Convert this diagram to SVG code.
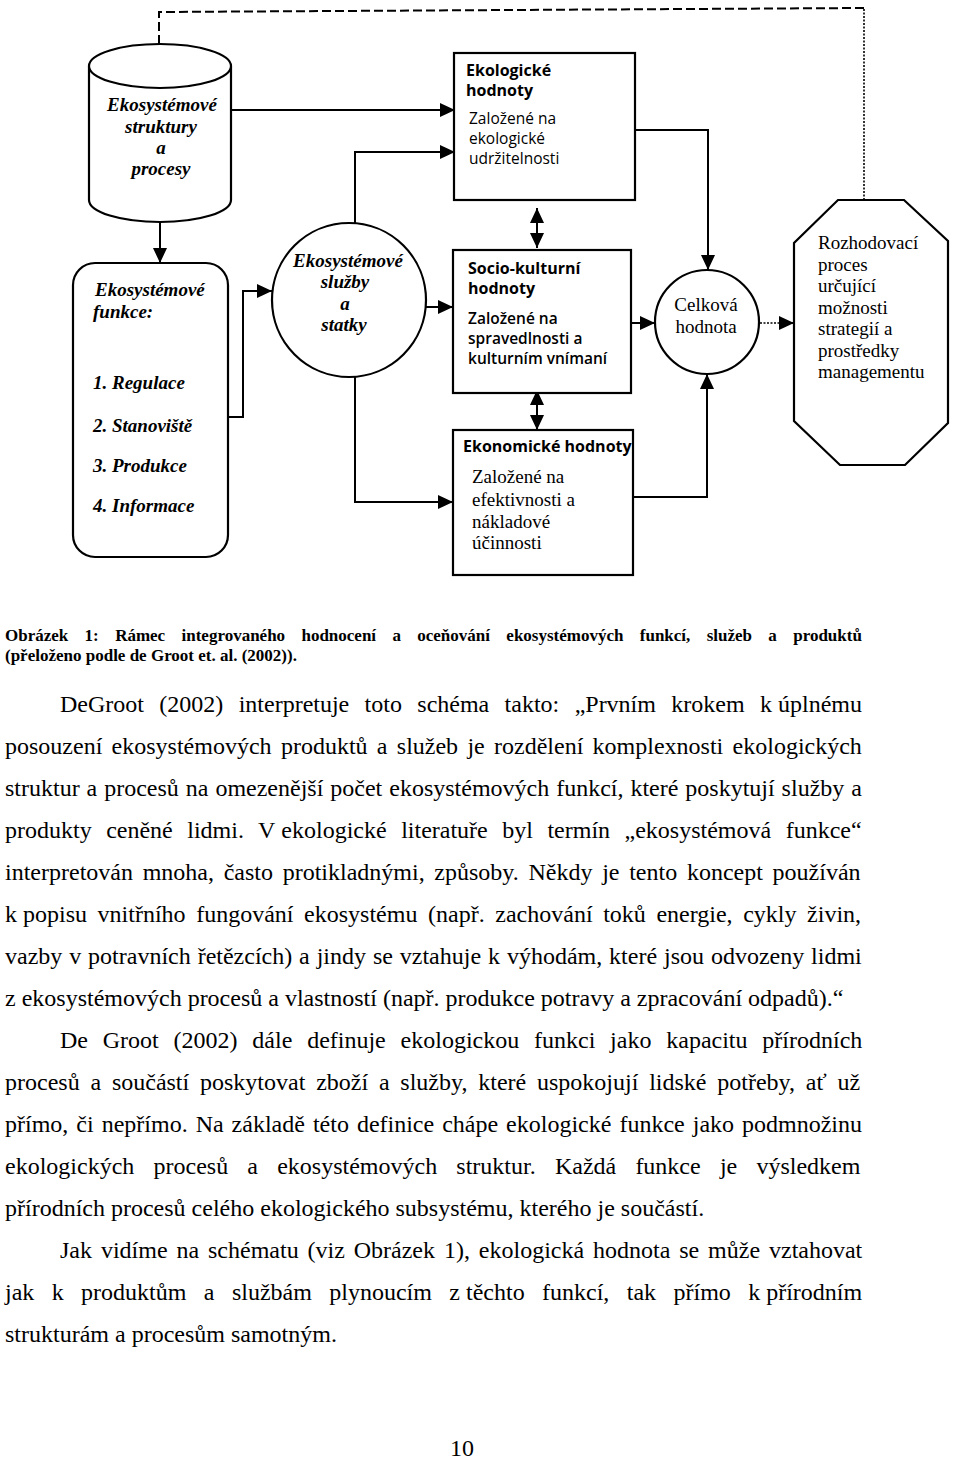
<svg xmlns="http://www.w3.org/2000/svg" width="960" height="1461" viewBox="0 0 960 1461">
<style>
.bg{fill:#fff}
.sh{fill:#fff;stroke:#000;stroke-width:2.2}
.ln{fill:none;stroke:#000;stroke-width:2}
.dash{fill:none;stroke:#000;stroke-width:2;stroke-dasharray:9 4}
.dot{fill:none;stroke:#000;stroke-width:1.6;stroke-dasharray:2 1.5}
.bi{font-family:"Liberation Serif",serif;font-weight:bold;font-style:italic;font-size:19px;fill:#000}
.sr{font-family:"Liberation Serif",serif;font-size:19px;fill:#000}
.sb{font-family:"Open Sans","Noto Sans",sans-serif;font-weight:700;font-size:16px;fill:#000}
.sm{font-family:"Open Sans","Noto Sans",sans-serif;font-weight:600;font-size:15.5px;fill:#000}
.sn{font-family:"Open Sans","Noto Sans",sans-serif;font-weight:400;font-size:15.5px;fill:#000}
.cap{font-family:"Liberation Serif",serif;font-weight:bold;font-size:17px;fill:#000}
.tx{font-family:"Liberation Serif",serif;font-size:24px;fill:#000}
</style>
<defs>
<marker id="ah" viewBox="0 0 15 14" refX="15" refY="7" markerWidth="15" markerHeight="14" markerUnits="userSpaceOnUse" orient="auto-start-reverse"><path d="M0,0 L15,7 L0,14 z" fill="#000"/></marker>
</defs>
<rect class="bg" x="0" y="0" width="960" height="1461"/>

<g id="connectors">
<path class="dot" d="M864,200 L864,8"/>
<path class="dash" d="M864,8 L159,12 L159,52"/>
<path class="ln" d="M159,50 L159,67" marker-end="url(#ah)"/>
<path class="ln" d="M231,110 L455,110" marker-end="url(#ah)"/>
<path class="ln" d="M355,223 L355,152 L455,152" marker-end="url(#ah)"/>
<path class="ln" d="M160,222 L160,263" marker-end="url(#ah)"/>
<path class="ln" d="M228,417 L243,417 L243,291 L272,291" marker-end="url(#ah)"/>
<path class="ln" d="M426,307 L453,307" marker-end="url(#ah)"/>
<path class="ln" d="M355,377 L355,502 L453,502" marker-end="url(#ah)"/>
<path class="ln" d="M537,208 L537,248" marker-start="url(#ah)" marker-end="url(#ah)"/>
<path class="ln" d="M537,390 L537,430" marker-start="url(#ah)" marker-end="url(#ah)"/>
<path class="ln" d="M635,130 L708,130 L708,270" marker-end="url(#ah)"/>
<path class="ln" d="M620,323 L655,323" marker-end="url(#ah)"/>
<path class="ln" d="M633,497 L707,497 L707,374" marker-end="url(#ah)"/>
<path class="dot" d="M760,323 L780,323"/>
<path class="ln" d="M779,323 L794,323" marker-end="url(#ah)"/>
</g>

<g id="node-struktury">
<path class="sh" d="M89,66 L89,200 A71,22 0 0 0 231,200 L231,66"/>
<ellipse class="sh" cx="160" cy="66" rx="71" ry="22"/>
<text class="bi" text-anchor="middle"><tspan x="162" y="111">Ekosystémové</tspan><tspan x="161" y="133">struktury</tspan><tspan x="161" y="154">a</tspan><tspan x="161" y="175">procesy</tspan></text>
</g>

<g id="node-funkce">
<rect class="sh" x="73" y="263" width="155" height="294" rx="22"/>
<text class="bi"><tspan x="95" y="296">Ekosystémové</tspan><tspan x="93" y="318">funkce:</tspan><tspan x="93" y="389">1. Regulace</tspan><tspan x="93" y="432">2. Stanoviště</tspan><tspan x="93" y="472">3. Produkce</tspan><tspan x="93" y="512">4. Informace</tspan></text>
</g>

<g id="node-sluzby">
<circle class="sh" cx="349" cy="300" r="77"/>
<text class="bi" text-anchor="middle"><tspan x="348" y="267">Ekosystémové</tspan><tspan x="345" y="288">služby</tspan><tspan x="345" y="310">a</tspan><tspan x="344" y="331">statky</tspan></text>
</g>

<g id="node-ekologicke">
<rect class="sh" x="454" y="53" width="181" height="147"/>
<text class="sb"><tspan x="466" y="76">Ekologické</tspan><tspan x="466" y="96">hodnoty</tspan></text>
<text class="sn"><tspan x="469" y="124">Založené na</tspan><tspan x="469" y="144">ekologické</tspan><tspan x="469" y="164">udržitelnosti</tspan></text>
</g>

<g id="node-socio">
<rect class="sh" x="453" y="250" width="178" height="143"/>
<text class="sb"><tspan x="468" y="274">Socio-kulturní</tspan><tspan x="468" y="294">hodnoty</tspan></text>
<text class="sm"><tspan x="468" y="324">Založené na</tspan><tspan x="468" y="344">spravedlnosti a</tspan><tspan x="468" y="364">kulturním vnímaní</tspan></text>
</g>

<g id="node-ekonomicke">
<rect class="sh" x="453" y="430" width="180" height="145"/>
<text class="sb" x="463" y="452">Ekonomické hodnoty</text>
<text class="sr"><tspan x="472" y="483">Založené na</tspan><tspan x="472" y="506">efektivnosti a</tspan><tspan x="472" y="528">nákladové</tspan><tspan x="472" y="549">účinnosti</tspan></text>
</g>

<g id="node-celkova">
<circle class="sh" cx="707" cy="322" r="52"/>
<text class="sr" text-anchor="middle"><tspan x="706" y="311">Celková</tspan><tspan x="706" y="333">hodnota</tspan></text>
</g>

<g id="node-rozhodovaci">
<path class="sh" d="M838,200 L904,200 L948,241 L948,423 L905,465 L840,465 L794,421 L794,243 Z"/>
<text class="sr"><tspan x="818" y="249">Rozhodovací</tspan><tspan x="818" y="271">proces</tspan><tspan x="818" y="292">určující</tspan><tspan x="818" y="314">možnosti</tspan><tspan x="818" y="335">strategií a</tspan><tspan x="818" y="357">prostředky</tspan><tspan x="818" y="378">managementu</tspan></text>
</g>

<g id="caption">
<text class="cap" x="5" y="641" word-spacing="12.1">Obrázek 1: Rámec integrovaného hodnocení a oceňování ekosystémových funkcí, služeb a produktů</text>
<text class="cap" x="5" y="661">(přeloženo podle de Groot et. al. (2002)).</text>
</g>

<g id="body-text">
<text class="tx" x="60" y="712" word-spacing="9.35">DeGroot (2002) interpretuje toto schéma takto: „Prvním krokem k<tspan word-spacing="0"> </tspan>úplnému</text>
<text class="tx" x="5" y="754" word-spacing="3.3">posouzení ekosystémových produktů a služeb je rozdělení komplexnosti ekologických</text>
<text class="tx" x="5" y="796" word-spacing="0.95">struktur a procesů na omezenější počet ekosystémových funkcí, které poskytují služby a</text>
<text class="tx" x="5" y="838" word-spacing="8.5">produkty ceněné lidmi. V<tspan word-spacing="0"> </tspan>ekologické literatuře byl termín „ekosystémová funkce“</text>
<text class="tx" x="5" y="880" word-spacing="3.7">interpretován mnoha, často protikladnými, způsoby. Někdy je tento koncept používán</text>
<text class="tx" x="5" y="922" word-spacing="4.6">k<tspan word-spacing="0"> </tspan>popisu vnitřního fungování ekosystému (např. zachování toků energie, cykly živin,</text>
<text class="tx" x="5" y="964" word-spacing="0.9">vazby v potravních řetězcích) a jindy se vztahuje k výhodám, které jsou odvozeny lidmi</text>
<text class="tx" x="5" y="1006">z ekosystémových procesů a vlastností (např. produkce potravy a zpracování odpadů).“</text>
<text class="tx" x="60" y="1048" word-spacing="8.8">De Groot (2002) dále definuje ekologickou funkci jako kapacitu přírodních</text>
<text class="tx" x="5" y="1090" word-spacing="4.8">procesů a součástí poskytovat zboží a služby, které uspokojují lidské potřeby, ať už</text>
<text class="tx" x="5" y="1132" word-spacing="2.0">přímo, či nepřímo. Na základě této definice chápe ekologické funkce jako podmnožinu</text>
<text class="tx" x="5" y="1174" word-spacing="13.2">ekologických procesů a ekosystémových struktur. Každá funkce je výsledkem</text>
<text class="tx" x="5" y="1216">přírodních procesů celého ekologického subsystému, kterého je součástí.</text>
<text class="tx" x="60" y="1258" word-spacing="2.9">Jak vidíme na schématu (viz Obrázek 1), ekologická hodnota se může vztahovat</text>
<text class="tx" x="5" y="1300" word-spacing="11.4">jak k produktům a službám plynoucím z<tspan word-spacing="0"> </tspan>těchto funkcí, tak přímo k<tspan word-spacing="0"> </tspan>přírodním</text>
<text class="tx" x="5" y="1342">strukturám a procesům samotným.</text>
<text class="tx" x="462" y="1456" text-anchor="middle" font-size="22">10</text>
</g>
</svg>
